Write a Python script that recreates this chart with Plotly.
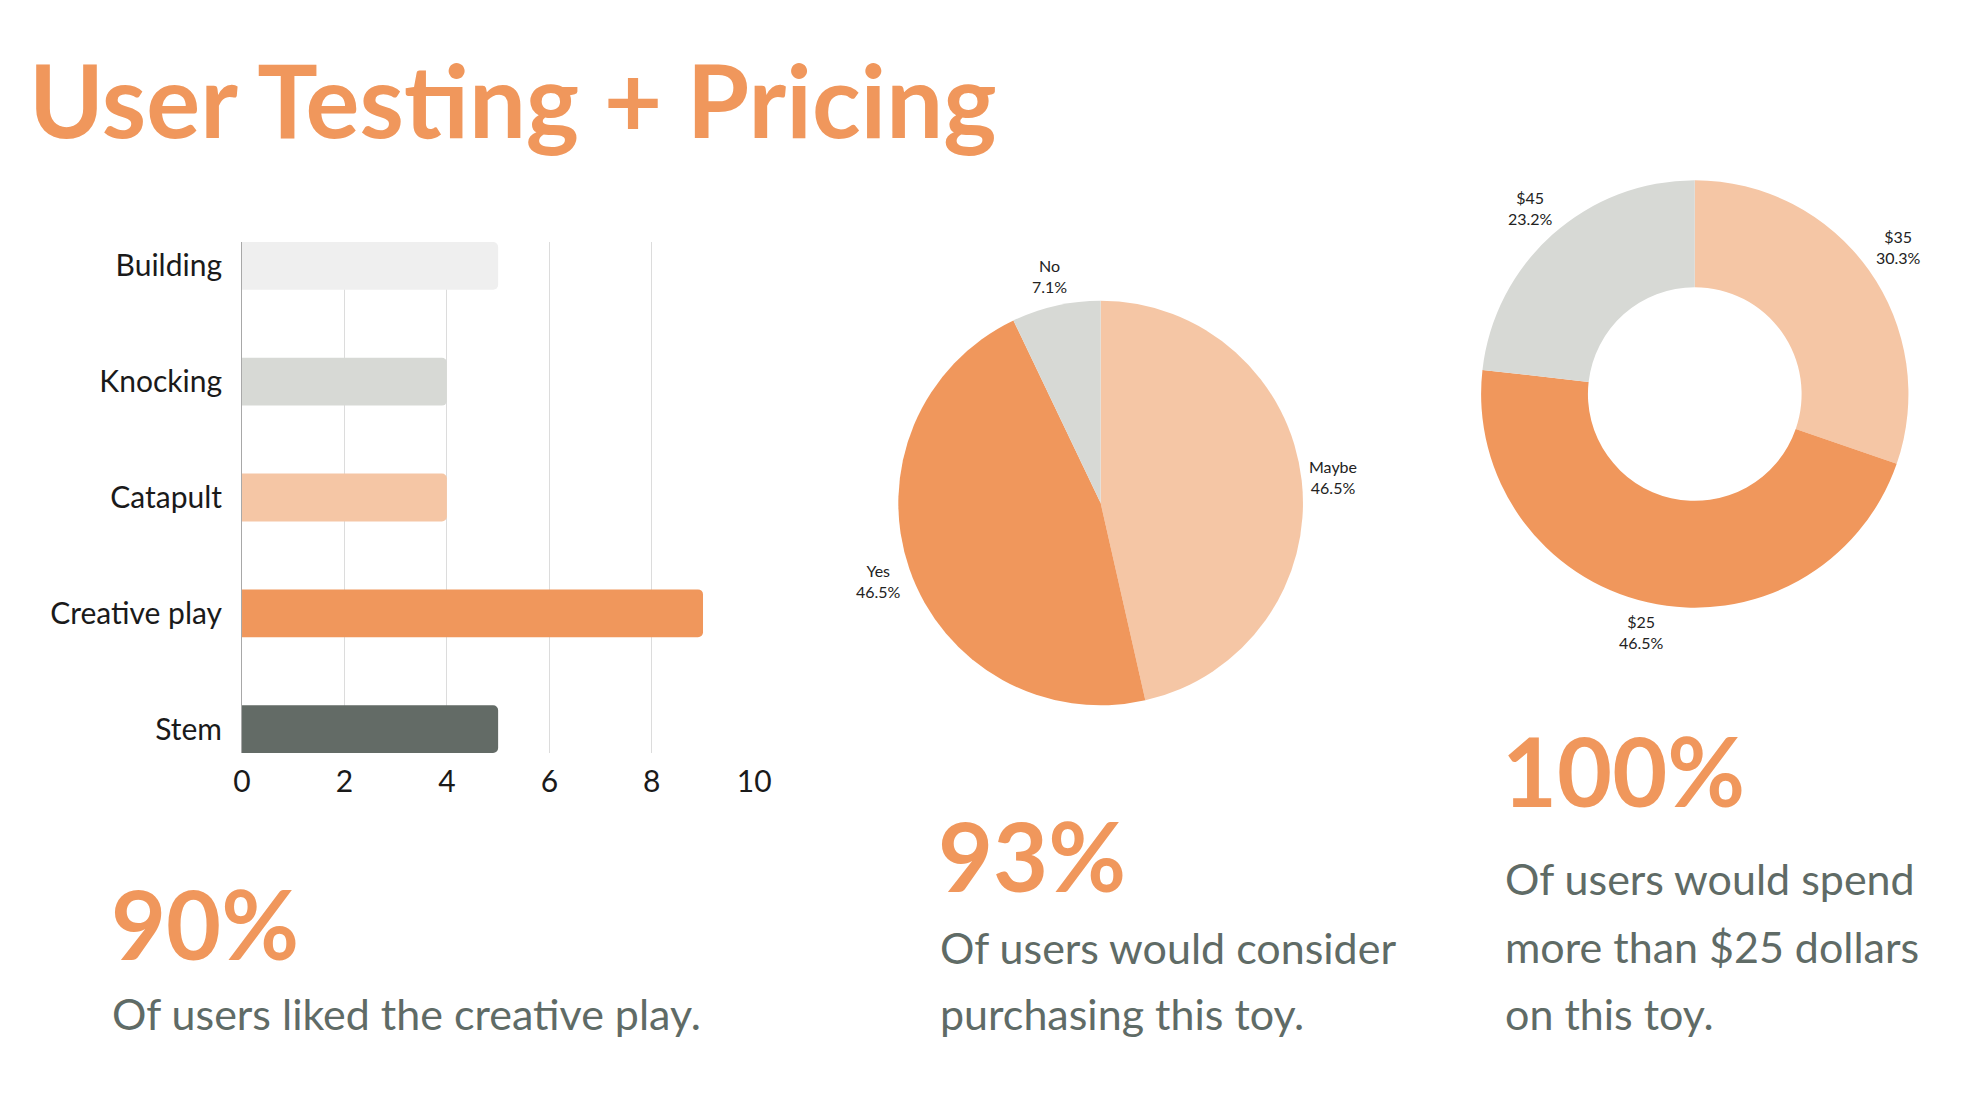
import math
import plotly.graph_objects as go

W, H = 1988, 1114

# ---------------- data ----------------
bar_categories = ["Building", "Knocking", "Catapult", "Creative play", "Stem"]
bar_values = [5, 4, 4, 9, 5]
bar_colors = ["#EFEFEF", "#D7D9D5", "#F5C6A5", "#F0975C", "#636B66"]
x_ticks = [0, 2, 4, 6, 8, 10]

purchase_labels = ["Maybe", "Yes", "No"]
purchase_values = [46.5, 46.5, 7.1]
purchase_colors = ["#F5C6A5", "#F0975C", "#D7D9D5"]

price_labels = ["$35", "$25", "$45"]
price_values = [30.3, 46.5, 23.2]
price_colors = ["#F5C6A5", "#F0975C", "#D7D9D5"]

title_text = "User Testing + Pricing"
stat_numbers = ["90%", "93%", "100%"]
stat_lines = [
    ["Of users liked the creative play."],
    ["Of users would consider", "purchasing this toy."],
    ["Of users would spend", "more than $25 dollars", "on this toy."],
]

ORANGE = "#F0975C"
GREY_TEXT = "#5F6B66"
FONT = "Lato"
LABEL_SIZE = 16


def px_x(px):
    return px / W


def px_y(py):
    return 1 - py / H


def pct_text(vals):
    s = sum(vals)
    return [f"{round(v / s * 100, 1):.1f}%" for v in vals]


def pie_label_annotations(labels, values, cx, cy, r):
    """Outside labels centred on each slice's mid-angle (clockwise from 12 o'clock)."""
    out = []
    total = sum(values)
    pcts = pct_text(values)
    cum = 0.0
    for lab, v, p in zip(labels, values, pcts):
        theta = 2 * math.pi * (cum + v / 2) / total
        cum += v
        ux, uy = math.sin(theta), -math.cos(theta)
        hw = max(len(lab), len(p)) * 0.55 * LABEL_SIZE / 2
        hh = 17.5
        proj = min(hw / max(abs(ux), 1e-6), hh / max(abs(uy), 1e-6))
        d = r + 10 + proj
        out.append(dict(
            text=f"{lab}<br>{p}", x=px_x(cx + d * ux), y=px_y(cy + d * uy),
            xref="paper", yref="paper", xanchor="center", yanchor="middle",
            showarrow=False, align="center",
            font=dict(family=FONT, size=LABEL_SIZE, color="#222222"),
        ))
    return out


fig = go.Figure()

# ---------------- bar chart ----------------
bar_w = 0.413
fig.add_trace(go.Bar(
    y=bar_categories, x=bar_values, orientation="h",
    marker=dict(color=bar_colors, cornerradius=5, line=dict(width=0)),
    width=bar_w, xaxis="x", yaxis="y", showlegend=False,
    hoverinfo="x+y",
))

# ---------------- pie ----------------
pc_x, pc_y, pr = 1098, 495, 205
fig.add_trace(go.Pie(
    labels=purchase_labels, values=purchase_values,
    textinfo="none",
    marker=dict(colors=purchase_colors, line=dict(width=0)),
    sort=False, direction="clockwise", rotation=0,
    domain=dict(x=[px_x(pc_x - pr), px_x(pc_x + pr)],
                y=[px_y(pc_y + pr), px_y(pc_y - pr)]),
    showlegend=False,
))

# ---------------- donut ----------------
dc_x, dc_y, dr = 1700, 386, 216.5
fig.add_trace(go.Pie(
    labels=price_labels, values=price_values,
    textinfo="none",
    marker=dict(colors=price_colors, line=dict(width=0)),
    hole=0.5,
    sort=False, direction="clockwise", rotation=0,
    domain=dict(x=[px_x(dc_x - dr), px_x(dc_x + dr)],
                y=[px_y(dc_y + dr), px_y(dc_y - dr)]),
    showlegend=False,
))

annotations = []
annotations += pie_label_annotations(purchase_labels, purchase_values, pc_x, pc_y, pr)
annotations += pie_label_annotations(price_labels, price_values, dc_x, dc_y, dr)

# title
annotations.append(dict(
    text=title_text, x=px_x(10), y=px_y(91), xref="paper", yref="paper",
    xanchor="left", yanchor="middle", showarrow=False,
    font=dict(family=FONT, size=101, color=ORANGE, weight="bold"),
))

# stats blocks
num_pos = [(93, 915), (931, 847), (1503, 762)]
num_size = [95, 95, 95]
line_x = [94, 933, 1506]
line_pos = [[1005], [939, 1005], [870, 938, 1005]]
for i, num in enumerate(stat_numbers):
    nx, ny = num_pos[i]
    annotations.append(dict(
        text=num, x=px_x(nx), y=px_y(ny), xref="paper", yref="paper",
        xanchor="left", yanchor="middle", showarrow=False,
        font=dict(family=FONT, size=num_size[i], color=ORANGE, weight="bold"),
    ))
    for ln, ly in zip(stat_lines[i], line_pos[i]):
        annotations.append(dict(
            text=ln, x=px_x(line_x[i]), y=px_y(ly), xref="paper", yref="paper",
            xanchor="left", yanchor="middle", showarrow=False,
            font=dict(family=FONT, size=43, color=GREY_TEXT),
        ))

fig.update_layout(
    width=W, height=H,
    margin=dict(l=0, r=0, t=0, b=0),
    paper_bgcolor="white", plot_bgcolor="white",
    font=dict(family=FONT, color="#1A1A1A"),
    bargap=1 - bar_w,
    xaxis=dict(
        domain=[px_x(228), px_x(747)], range=[0, 10],
        tickvals=x_ticks, ticktext=[str(t) for t in x_ticks],
        showgrid=True, gridcolor="#DCDCDC", gridwidth=1,
        zeroline=False, showline=False,
        tickfont=dict(family=FONT, size=30, color="#1A1A1A"),
        ticks="", ticklabelstandoff=8, anchor="y",
    ),
    yaxis=dict(
        domain=[px_y(745), px_y(234)],
        range=[4 + bar_w / 2, -bar_w / 2],
        type="category",
        showgrid=False, zeroline=False,
        showline=True, linecolor="#A8A8A8", linewidth=1,
        tickfont=dict(family=FONT, size=30, color="#1A1A1A"),
        ticks="", ticklabelstandoff=13, anchor="x",
    ),
    annotations=annotations,
)

fig.write_html("out.html")
